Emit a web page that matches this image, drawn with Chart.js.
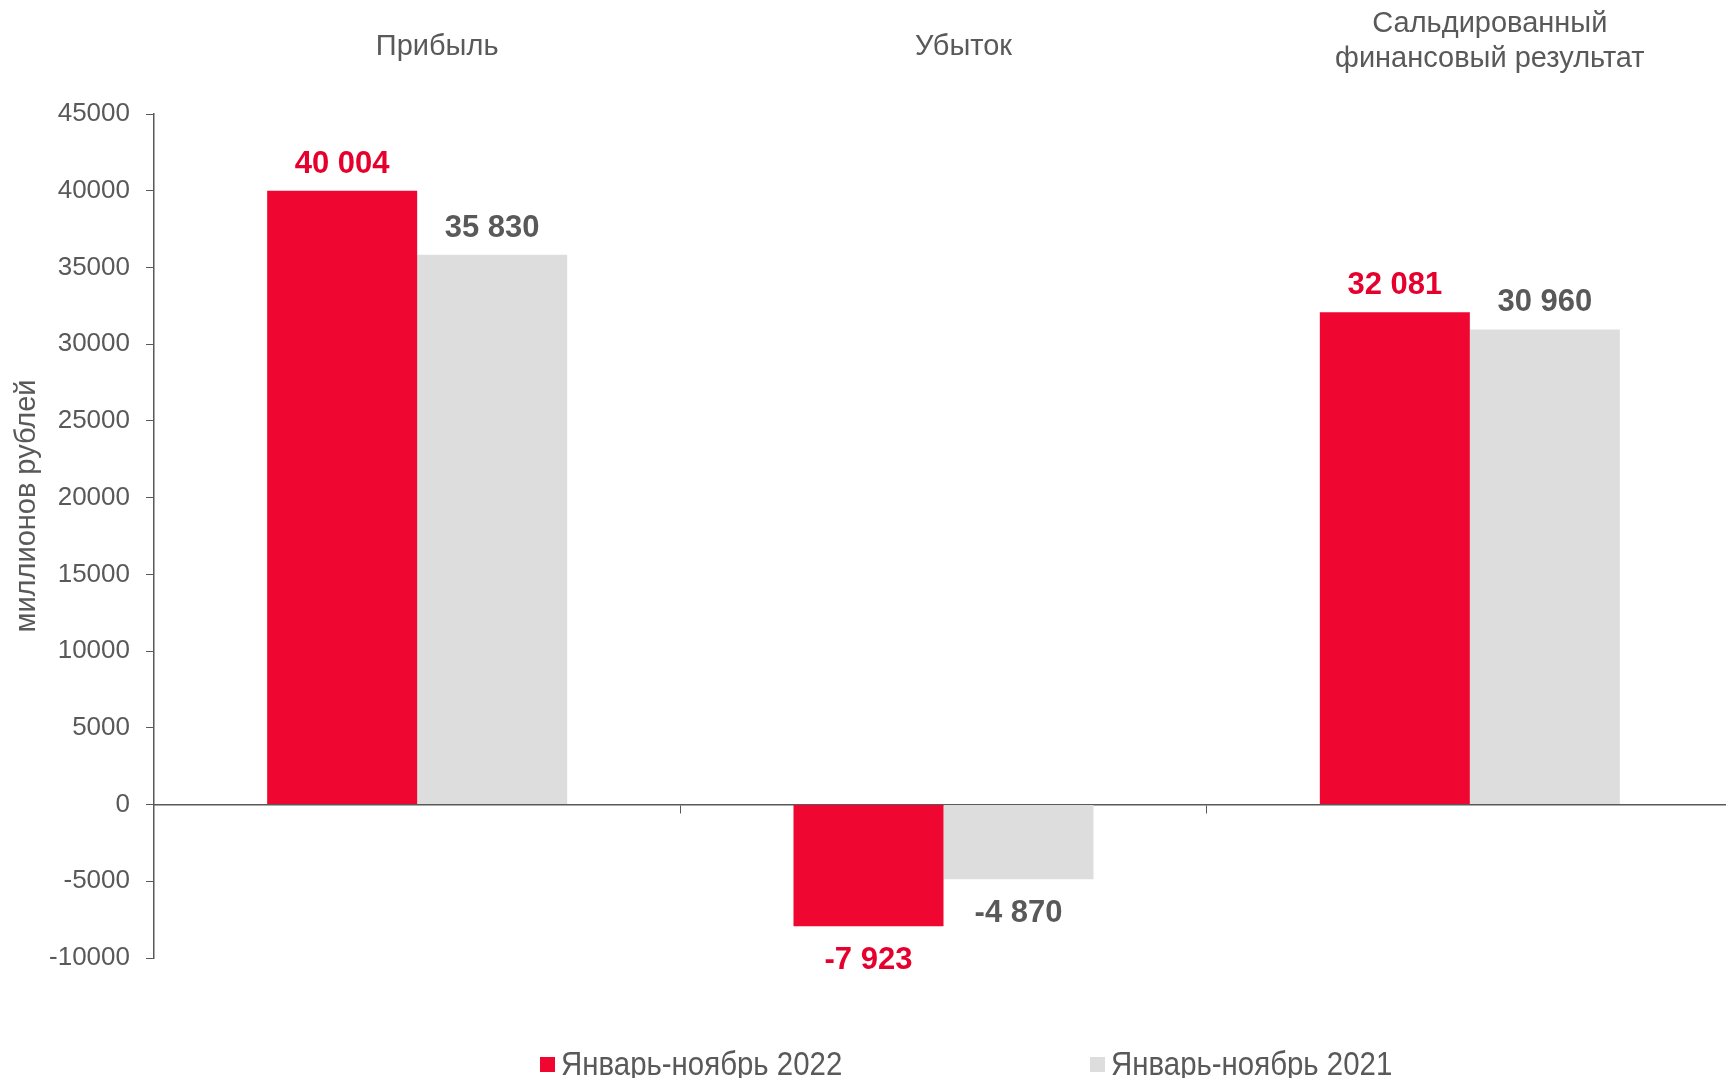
<!DOCTYPE html>
<html>
<head>
<meta charset="utf-8">
<script src="https://cdn.jsdelivr.net/npm/chart.js@4/dist/chart.umd.min.js"></script>
<style>
	html, body { margin: 0; padding: 0; background: #ffffff; overflow: hidden; }
	#wrap { width: 1733px; height: 1078px; position: relative; }
</style>
</head>
<body>
<div id="wrap"><canvas id="grafico"></canvas></div>
<script>
const categorias = ['Прибыль', 'Убыток', ['Сальдированный', 'финансовый результат']];
const serie2022 = [40004, -7923, 32081];
const serie2021 = [35830, -4870, 30960];
const rotulos = ['Январь-ноябрь 2022', 'Январь-ноябрь 2021'];
const ticksY = { min: -10000, max: 45000, step: 5000 };
const tituloY = 'миллионов рублей';

const cinza = '#595959';
const vermelho = '#EF0732';
const vermelhoTexto = '#E6002D';
const cinzaBarra = '#DDDDDD';

function formatar(v) {
	const s = String(Math.abs(v)).replace(/\B(?=(\d{3})+(?!\d))/g, ' ');
	return (v < 0 ? '-' : '') + s;
}

// rótulos dos valores, categorias no topo, título do eixo e legenda
const extras = {
	id: 'extras',
	afterDatasetsDraw(chart) {
		const ctx = chart.ctx;
		const xs = chart.scales.x;
		ctx.save();

		// valores
		ctx.font = 'bold 31px "Liberation Sans", Arial, sans-serif';
		ctx.textAlign = 'center';
		ctx.textBaseline = 'alphabetic';
		chart.data.datasets.forEach((ds, di) => {
			const meta = chart.getDatasetMeta(di);
			ctx.fillStyle = di === 0 ? vermelhoTexto : cinza;
			meta.data.forEach((bar, i) => {
				const v = ds.data[i];
				const y = v >= 0 ? bar.y - 18 : bar.y + 43;
				ctx.fillText(formatar(v), bar.x, y);
			});
		});

		// categorias no topo
		ctx.font = '29px "Liberation Sans", Arial, sans-serif';
		ctx.fillStyle = cinza;
		ctx.textBaseline = 'middle';
		chart.data.labels.forEach((lab, i) => {
			const x = xs.getPixelForValue(i) + 20;
			const linhas = Array.isArray(lab) ? lab : [lab];
			if (linhas.length === 1) {
				ctx.fillText(linhas[0], x, 47);
			} else {
				linhas.forEach((l, k) => ctx.fillText(l, x, 24 + k * 35));
			}
		});

		// título do eixo y
		ctx.save();
		ctx.translate(27, 506);
		ctx.rotate(-Math.PI / 2);
		ctx.font = '29px "Liberation Sans", Arial, sans-serif';
		ctx.fillText(tituloY, 0, 0);
		ctx.restore();

		// legenda (texto estreitado, como Arial Narrow)
		const inicio = [540, 1090];
		ctx.textAlign = 'left';
		ctx.font = '34px "Liberation Sans Narrow", "Liberation Sans", Arial, sans-serif';
		chart.data.datasets.forEach((ds, di) => {
			const x = inicio[di];
			ctx.fillStyle = ds.backgroundColor;
			ctx.fillRect(x, 1057, 15, 15);
			ctx.fillStyle = cinza;
			ctx.save();
			ctx.translate(x + 21, 1066);
			ctx.scale(0.865, 1);
			ctx.fillText(ds.label, 0, 0);
			ctx.restore();
		});

		ctx.restore();
	}
};

document.addEventListener('DOMContentLoaded', function () {
	const ctx = document.getElementById('grafico').getContext('2d');

	const data = {
		labels: categorias,
		datasets: [
			{
				label: rotulos[0],
				data: serie2022,
				backgroundColor: vermelho,
				borderWidth: 0,
			},
			{
				label: rotulos[1],
				data: serie2021,
				backgroundColor: cinzaBarra,
				borderWidth: 0,
			},
		],
	};

	const config = {
		type: 'bar',
		data: data,
		options: {
			responsive: true,
			maintainAspectRatio: false,
			animation: false,
			categoryPercentage: 0.57,
			barPercentage: 1,
			layout: {
				padding: { top: 114, bottom: 120, left: 0, right: 0 },
			},
			plugins: {
				legend: { display: false },
				tooltip: { enabled: false },
			},
			scales: {
				x: {
					position: { y: 0 },
					offset: true,
					grid: {
						offset: true,
						drawOnChartArea: false,
						tickLength: 8,
						color: cinza,
					},
					border: { display: true, color: cinza, width: 1.5 },
					ticks: { display: false },
				},
				y: {
					min: ticksY.min,
					max: ticksY.max,
					ticks: {
						stepSize: ticksY.step,
						padding: 16,
						color: cinza,
						font: { family: '"Liberation Sans", Arial, sans-serif', size: 26 },
						callback: (v) => String(v),
					},
					grid: {
						drawOnChartArea: false,
						tickLength: 8,
						color: cinza,
					},
					border: { display: true, color: cinza, width: 1.5 },
					afterFit(scale) {
						scale.width = 154;
					},
				},
			},
		},
		plugins: [extras],
	};

	new Chart(ctx, config);
});
</script>
</body>
</html>
